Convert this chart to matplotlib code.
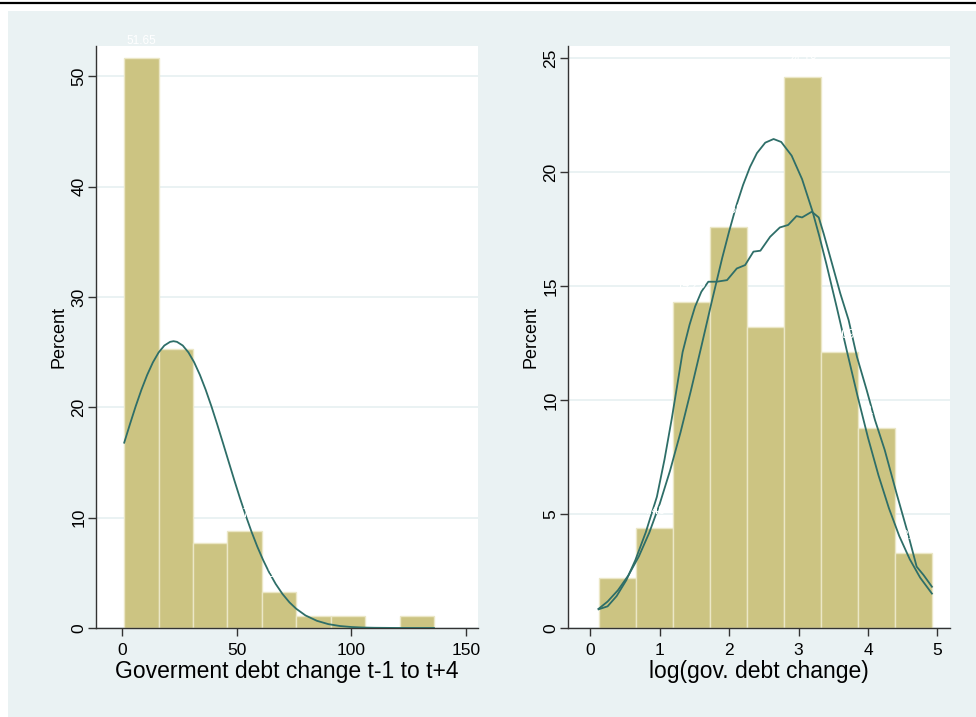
import numpy as np
import matplotlib
matplotlib.use("Agg")
import matplotlib.pyplot as plt
from matplotlib.patches import Rectangle
from matplotlib.lines import Line2D

plt.rcParams['font.family'] = ['Liberation Sans', 'DejaVu Sans']

# left panel: debt change, percent per bin
debt_edges = [1, 16, 31, 46, 61, 76, 91, 106, 121, 136]
debt_pct = [51.65, 25.27, 7.69, 8.79, 3.30, 1.10, 1.10, 0.0, 1.10]
# normal overlay
debt_norm_x = [1, 3.5, 6, 8.5, 11, 13.5, 16, 18.5, 21, 22.5, 24, 26.5, 29,
               31.5, 34, 36.5, 39, 41.5, 44, 46.5, 49, 51.5, 54, 56.5, 59,
               61.5, 64, 67, 70, 73, 76, 80, 85, 90, 95, 100, 105, 110, 120,
               136]
debt_norm_y = [16.80, 18.48, 20.10, 21.60, 22.94, 24.08, 24.98, 25.61, 25.94,
               26.0, 25.94, 25.61, 24.98, 24.08, 22.94, 21.60, 20.10, 18.48,
               16.80, 15.09, 13.39, 11.74, 10.18, 8.72, 7.38, 6.18, 5.11,
               4.00, 3.08, 2.33, 1.74, 1.14, 0.65, 0.35, 0.18, 0.09, 0.04,
               0.02, 0.003, 0.0]

# right panel: log debt change
log_edges = [0.12, 0.653, 1.187, 1.72, 2.253, 2.787, 3.32, 3.853, 4.387, 4.92]
log_pct = [2.20, 4.40, 14.29, 17.58, 13.19, 24.18, 12.09, 8.79, 3.30]
log_norm_x = [0.12, 0.25, 0.4, 0.55, 0.7, 0.85, 1.0, 1.15, 1.3, 1.45, 1.6,
              1.75, 1.9, 2.0, 2.1, 2.2, 2.3, 2.4, 2.52, 2.64, 2.75, 2.9,
              3.05, 3.2, 3.3, 3.4, 3.55, 3.7, 3.85, 4.0, 4.15, 4.3, 4.45,
              4.6, 4.75, 4.92]
log_norm_y = [0.84, 1.16, 1.66, 2.31, 3.14, 4.18, 5.44, 6.91, 8.58, 10.42,
              12.35, 14.32, 16.23, 17.40, 18.49, 19.43, 20.22, 20.83, 21.29,
              21.45, 21.32, 20.72, 19.69, 18.28, 17.17, 15.97, 14.06, 12.09,
              10.16, 8.34, 6.70, 5.26, 4.03, 3.02, 2.21, 1.51]
log_kde_x = [0.12, 0.25, 0.38, 0.52, 0.65, 0.80, 0.96, 1.07, 1.175, 1.25,
             1.33, 1.43, 1.51, 1.60, 1.70, 1.82, 1.97, 2.11, 2.23, 2.35,
             2.45, 2.59, 2.73, 2.85, 2.97, 3.05, 3.19, 3.29, 3.36, 3.48,
             3.60, 3.72, 3.84, 3.98, 4.10, 4.24, 4.41, 4.56, 4.70, 4.80,
             4.92]
log_kde_y = [0.82, 0.95, 1.40, 2.10, 2.98, 4.20, 5.76, 7.4, 9.2, 10.6,
             12.1, 13.3, 14.1, 14.75, 15.19, 15.19, 15.26, 15.77, 15.92,
             16.51, 16.55, 17.16, 17.57, 17.68, 18.07, 18.01, 18.26, 18.01,
             17.31, 16.0, 14.68, 13.51, 11.9, 10.44, 9.12, 7.81, 5.91, 4.30,
             2.69, 2.32, 1.81]

bar_col = '#ccc482'
edge_col = '#ebe7c6'
line_col = '#2e6e68'
bg_col = '#eaf2f3'
axis_col = '#333333'

fig = plt.figure(figsize=(9.76, 7.17), dpi=100)
fig.patch.set_facecolor('white')
fig.patches.append(Rectangle((8 / 976, 0), 1, (717 - 11) / 717,
                             transform=fig.transFigure, facecolor=bg_col,
                             edgecolor='none', zorder=-10))
fig.lines.append(Line2D([0, 1], [1 - 3 / 717, 1 - 3 / 717],
                        transform=fig.transFigure, color='black', lw=1.6,
                        zorder=-10))

ax1 = fig.add_axes([96 / 976, 89 / 717, 382 / 976, 582 / 717])
ax2 = fig.add_axes([568 / 976, 89 / 717, 382 / 976, 582 / 717])


def draw_hist(ax, edges, pct):
    edges = np.array(edges)
    ax.bar(edges[:-1], pct, width=np.diff(edges), align='edge',
           color=bar_col, edgecolor=edge_col, linewidth=1.0, zorder=2)
    for x0, w, h in zip(edges[:-1], np.diff(edges), pct):
        if h > 0:
            ax.annotate(f"{h:.2f}", (x0 + w / 2, h), xytext=(0, 8),
                        textcoords='offset points', ha='center', va='bottom',
                        color='white', fontsize=8.5, zorder=4,
                        annotation_clip=False)


def style(ax, xlabel):
    ax.set_facecolor('white')
    for s in ['top', 'right']:
        ax.spines[s].set_visible(False)
    for s in ['left', 'bottom']:
        ax.spines[s].set_color(axis_col)
        ax.spines[s].set_linewidth(1.0)
    ax.tick_params(direction='out', length=6, width=1, color=axis_col,
                   labelsize=12.5, labelcolor='black')
    ax.tick_params(axis='x', pad=5)
    ax.tick_params(axis='y', pad=1)
    for lab in ax.get_yticklabels():
        lab.set_rotation(90)
        lab.set_va('center')
    ax.yaxis.grid(True, color=bg_col, linewidth=1.4)
    ax.set_axisbelow(True)
    ax.set_xlabel(xlabel, fontsize=16.5, labelpad=1)
    ax.set_ylabel('Percent', fontsize=13, labelpad=3)


draw_hist(ax1, debt_edges, debt_pct)
ax1.plot(debt_norm_x, debt_norm_y, color=line_col, lw=1.3, zorder=3)
ax1.set_xlim(-11.3, 155.2)
ax1.set_ylim(0, 52.76)
ax1.set_xticks([0, 50, 100, 150])
ax1.set_yticks([0, 10, 20, 30, 40, 50])
style(ax1, 'Goverment debt change t-1 to t+4')

draw_hist(ax2, log_edges, log_pct)
ax2.plot(log_norm_x, log_norm_y, color=line_col, lw=1.3, zorder=3)
ax2.plot(log_kde_x, log_kde_y, color=line_col, lw=1.3, zorder=3)
ax2.set_xlim(-0.32, 5.18)
ax2.set_ylim(0, 25.53)
ax2.set_xticks([0, 1, 2, 3, 4, 5])
ax2.set_yticks([0, 5, 10, 15, 20, 25])
style(ax2, 'log(gov. debt change)')

fig.savefig('out.png', dpi=100)
